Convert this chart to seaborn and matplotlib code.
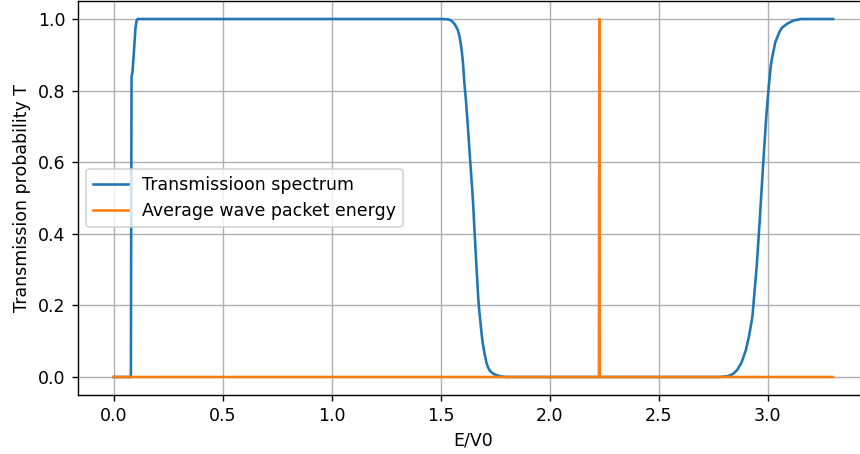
import matplotlib
matplotlib.use("Agg")
import matplotlib.pyplot as plt
import seaborn as sns
import pandas as pd

# Transmission spectrum
spec_E = [0.0, 0.079, 0.080, 0.082, 0.086, 0.092, 0.100, 0.105, 0.110,
          0.5, 1.0, 1.50, 1.535, 1.55, 1.565, 1.579, 1.587, 1.595, 1.602,
          1.609, 1.615, 1.62, 1.626, 1.632, 1.64, 1.648, 1.66, 1.673,
          1.678, 1.683, 1.688, 1.693, 1.70, 1.705, 1.71, 1.716, 1.725,
          1.735, 1.745, 1.762, 1.775, 1.80, 2.0, 2.5, 2.78, 2.815, 2.84,
          2.861, 2.87, 2.88, 2.90, 2.915, 2.93, 2.95, 2.965, 2.979, 2.994,
          3.005, 3.014, 3.02, 3.03, 3.035, 3.045, 3.055, 3.065, 3.075,
          3.09, 3.10, 3.12, 3.13, 3.152, 3.2, 3.3]
spec_T = [0.0, 0.0, 0.30, 0.84, 0.85, 0.90, 0.975, 0.995, 1.0,
          1.0, 1.0, 1.0, 0.999, 0.995, 0.985, 0.969, 0.95, 0.92, 0.88,
          0.82, 0.78, 0.74, 0.69, 0.634, 0.565, 0.494, 0.355, 0.215,
          0.18, 0.15, 0.12, 0.095, 0.07, 0.055, 0.04, 0.029, 0.018,
          0.012, 0.008, 0.004, 0.002, 0.0, 0.0, 0.0, 0.0, 0.002, 0.008,
          0.02, 0.03, 0.04, 0.075, 0.115, 0.168, 0.31, 0.45, 0.59, 0.73,
          0.81, 0.867, 0.89, 0.92, 0.935, 0.95, 0.965, 0.975, 0.98,
          0.987, 0.99, 0.996, 0.997, 1.0, 1.0, 1.0]

# Average wave packet energy marker
avg_E = [0.0, 2.226, 2.228, 2.230, 3.3]
avg_T = [0.0, 0.0, 1.0, 0.0, 0.0]

df_spec = pd.DataFrame({"E": spec_E, "T": spec_T})
df_avg = pd.DataFrame({"E": avg_E, "T": avg_T})

DPI = 125
fig = plt.figure(figsize=(860 / DPI, 454 / DPI), dpi=DPI)
ax = fig.add_axes([77.7 / 860, 1 - 394.9 / 454, (869 - 77.7) / 860, (394.9 - 1.1) / 454])

sns.lineplot(data=df_spec, x="E", y="T", ax=ax, sort=False, estimator=None,
             color="#1f77b4", linewidth=1.5, label="Transmissioon spectrum")
sns.lineplot(data=df_avg, x="E", y="T", ax=ax, sort=False, estimator=None,
             color="#ff7f0e", linewidth=1.5, label="Average wave packet energy")

ax.grid(True)
ax.set_xlabel("E/V0")
ax.set_ylabel("Transmission probability T")
ax.legend(loc="center left")

fig.savefig("out.png", dpi=DPI)
